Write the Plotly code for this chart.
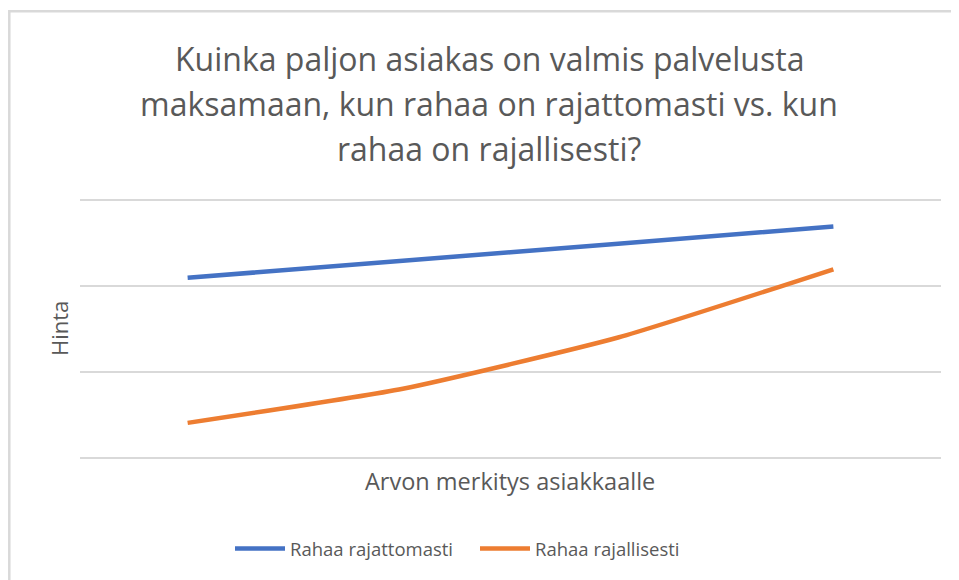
import plotly.graph_objects as go

categories = ["1", "2", "3", "4"]
rahaa_rajattomasti = [21, 23, 25, 27]
rahaa_rajallisesti = [4, 8, 14, 22]
title_lines = [
    "Kuinka paljon asiakas on valmis palvelusta",
    "maksamaan, kun rahaa on rajattomasti vs. kun",
    "rahaa on rajallisesti?",
]

OFF = 8  # page body margin
W, H = 959 - OFF, 580 - OFF
ML, MR, MT = 80 - OFF, 18, 201 - OFF
MB = H - (457 - OFF)
PW, PH = W - ML - MR, H - MT - MB

def px_x(px):
    return (px - OFF - ML) / PW

def px_y(py):
    return (H - MB - (py - OFF)) / PH

FONT = "Open Sans"
GRAY = "#595959"
GRID = "#d9d9d9"

fig = go.Figure()
fig.add_trace(go.Scatter(x=categories, y=rahaa_rajattomasti, mode="lines",
                         name="Rahaa rajattomasti",
                         line=dict(color="#4472C4", width=4.5, shape="spline", smoothing=0.5)))
fig.add_trace(go.Scatter(x=categories, y=rahaa_rajallisesti, mode="lines",
                         name="Rahaa rajallisesti",
                         line=dict(color="#ED7D31", width=4.5, shape="spline", smoothing=0.5)))

annotations = []
for line, cy in zip(title_lines, [58, 103, 148]):
    annotations.append(dict(text=line, x=px_x(489), y=px_y(cy), xref="paper", yref="paper",
                            xanchor="center", yanchor="middle", showarrow=False,
                            font=dict(family=FONT, size=32, color=GRAY)))
annotations.append(dict(text="Arvon merkitys asiakkaalle", x=px_x(510), y=px_y(481),
                        xref="paper", yref="paper", xanchor="center", yanchor="middle",
                        showarrow=False, font=dict(family=FONT, size=23.5, color=GRAY)))
annotations.append(dict(text="Hinta", x=px_x(59), y=px_y(329), xref="paper", yref="paper",
                        xanchor="center", yanchor="middle", textangle=-90,
                        showarrow=False, font=dict(family=FONT, size=22, color=GRAY)))

fig.update_layout(
    width=W, height=H,
    margin=dict(l=ML, r=MR, t=MT, b=MB, autoexpand=False),
    paper_bgcolor="white", plot_bgcolor="white",
    showlegend=True,
    legend=dict(orientation="h", x=px_x(230), xanchor="left", y=px_y(549), yanchor="middle",
                font=dict(family=FONT, size=18.5, color=GRAY), itemwidth=50,
                entrywidth=180, traceorder="normal"),
    xaxis=dict(type="category", range=[-0.5, 3.5], showticklabels=False, showgrid=False,
               zeroline=False, showline=True, mirror=True, linecolor=GRID, linewidth=1.5,
               ticks=""),
    yaxis=dict(range=[0, 30], tickvals=[0, 10, 20, 30], showticklabels=False, showgrid=True,
               gridcolor=GRID, gridwidth=1.5, zeroline=False, showline=False, ticks=""),
    annotations=annotations,
    shapes=[dict(type="rect", xref="paper", yref="paper",
                 x0=px_x(9.3), x1=px_x(1000), y0=px_y(11.3), y1=px_y(620),
                 line=dict(color=GRID, width=2.5), fillcolor="rgba(0,0,0,0)", layer="below")],
    hovermode=False,
)

fig.write_html("out.html")
